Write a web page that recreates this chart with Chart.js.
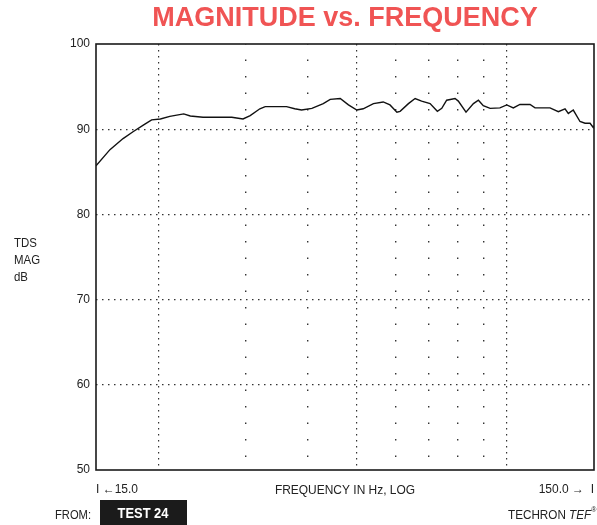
<!DOCTYPE html>
<html>
<head>
<meta charset="utf-8">
<script src="https://cdn.jsdelivr.net/npm/chart.js@4.4.1/dist/chart.umd.min.js"></script>
<style>
  html, body { margin: 0; padding: 0; background: #fff; }
</style>
</head>
<body>
<canvas id="myChart" width="597" height="525"></canvas>
<script>
const freqs = [15.0, 16.0, 17.0, 17.8, 18.7, 19.4, 20.2, 21.1, 22.5, 23.2,
               24.6, 26.2, 28.1, 29.6, 30.6, 32.0, 32.8, 36.2, 37.6, 38.8,
               40.7, 42.9, 44.3, 46.4, 48.2, 50.1, 51.6, 54.1, 56.6, 58.4,
               60.3, 61.2, 63.6, 65.6, 67.6, 70.3, 72.7, 74.2, 75.9, 78.9,
               80.1, 83.0, 85.9, 87.9, 89.9, 92.8, 97.1, 100.2, 103.3, 106.5,
               111.6, 114.2, 122.4, 127.2, 131.2, 133.2, 136.3, 140.6, 143.9, 147.3,
               149.5, 150.0];
const mags  = [85.7, 87.6, 88.9, 89.7, 90.5, 91.1, 91.2, 91.5, 91.8, 91.55,
               91.4, 91.4, 91.4, 91.2, 91.6, 92.4, 92.65, 92.65, 92.4, 92.25,
               92.45, 93.0, 93.5, 93.6, 92.85, 92.25, 92.4, 93.0, 93.2, 92.85,
               92.0, 92.1, 93.0, 93.6, 93.3, 93.0, 92.1, 92.45, 93.4, 93.6,
               93.3, 92.0, 93.0, 93.4, 92.75, 92.45, 92.5, 92.85, 92.5, 92.9,
               92.9, 92.5, 92.5, 92.05, 92.4, 91.85, 92.25, 90.9, 90.7, 90.7,
               90.2, 90.4];

// axes / grid
const yTicks = [50, 60, 70, 80, 90, 100];
const xEnds = [15, 150];
const xEndLabels = ['I \u2190' + '15.0', '150.0 \u2192  I'];
const denseFreqs = [20, 50, 100];
const sparseFreqs = [30, 40, 60, 70, 80, 90];

const FONT = 'Liberation Sans, Arial, sans-serif';
const INK = '#222';

// no automatic label padding, sizes are fixed by hand
const flat = s => { s.paddingLeft = 0; s.paddingRight = 0; s.paddingTop = 0; s.paddingBottom = 0; };

// narrow text, like the condensed type of the sheet
function narrow(ctx, text, x, y, align, sx) {
    ctx.save();
    ctx.translate(x, y);
    ctx.scale(sx, 1);
    ctx.textAlign = align;
    ctx.fillText(text, 0, 0);
    ctx.restore();
}

// extra texts of the sheet (axis label, footer) and the frame
const sheetText = {
    id: 'sheetText',
    afterDraw(chart) {
        const ctx = chart.ctx;
        const a = chart.chartArea;
        ctx.save();
        ctx.strokeStyle = '#1a1a1a';
        ctx.lineWidth = 1.6;
        ctx.strokeRect(a.left, a.top, a.right - a.left, a.bottom - a.top);

        ctx.fillStyle = INK;
        ctx.textBaseline = 'middle';
        ctx.font = '13px ' + FONT;
        ['TDS', 'MAG', 'dB'].forEach((t, i) => narrow(ctx, t, 14, 243 + i * 17, 'left', 0.88));

        narrow(ctx, 'FREQUENCY IN Hz, LOG', (a.left + a.right) / 2, 490, 'center', 0.92);
        narrow(ctx, 'FROM:', 55, 515, 'left', 0.86);

        ctx.fillStyle = '#1b1b1b';
        ctx.fillRect(100, 500, 87, 25);
        ctx.fillStyle = '#fff';
        ctx.font = 'bold 15px ' + FONT;
        narrow(ctx, 'TEST 24', 143, 514, 'center', 0.86);

        ctx.fillStyle = INK;
        ctx.font = '13px ' + FONT;
        const sx = 0.9;
        let w = ctx.measureText('TECHRON ').width * sx;
        narrow(ctx, 'TECHRON ', 508, 515, 'left', sx);
        ctx.font = 'italic 13px ' + FONT;
        narrow(ctx, 'TEF', 508 + w, 515, 'left', sx);
        w += ctx.measureText('TEF').width * sx;
        ctx.font = '7px ' + FONT;
        ctx.fillText('\u00ae', 508 + w, 510);
        ctx.restore();
    }
};

new Chart(document.getElementById('myChart'), {
    type: 'line',
    data: {
        datasets: [{
            data: freqs.map((f, i) => ({ x: f, y: mags[i] })),
            borderColor: '#111',
            borderWidth: 1.4,
            pointRadius: 0,
            tension: 0,
            xAxisID: 'x',
            yAxisID: 'y'
        }]
    },
    options: {
        responsive: false,
        animation: false,
        layout: { padding: { left: 0, right: 3, top: 0, bottom: 27.2 } },
        plugins: {
            legend: { display: false },
            tooltip: { enabled: false },
            title: {
                display: true,
                fullSize: false,
                text: 'MAGNITUDE vs. FREQUENCY',
                color: '#f05454',
                font: { family: FONT, size: 27, weight: 'bold' },
                padding: { top: 2, bottom: 9.6 }
            }
        },
        scales: {
            x: {
                type: 'logarithmic',
                position: 'bottom',
                min: 15, max: 150,
                afterBuildTicks: s => { s.ticks = xEnds.map(v => ({ value: v })); },
                afterFit: s => { flat(s); s.height = 27.8; },
                ticks: {
                    align: 'inner',
                    autoSkip: false,
                    maxRotation: 0,
                    padding: 12.2,
                    color: INK,
                    font: { family: FONT, size: 12 },
                    callback: (v, i) => xEndLabels[i]
                },
                grid: { display: false, drawTicks: false },
                border: { display: false }
            },
            xd: { // dense dotted verticals
                type: 'logarithmic',
                position: 'bottom',
                min: 15, max: 150,
                afterBuildTicks: s => { s.ticks = denseFreqs.map(v => ({ value: v })); },
                afterFit: s => { flat(s); s.height = 0; },
                ticks: { display: false },
                grid: { color: '#333', lineWidth: 1.2, drawTicks: false },
                border: { display: false, dash: [1.5, 4.5] }
            },
            xs: { // sparse dotted verticals
                type: 'logarithmic',
                position: 'bottom',
                min: 15, max: 150,
                afterBuildTicks: s => { s.ticks = sparseFreqs.map(v => ({ value: v })); },
                afterFit: s => { flat(s); s.height = 0; },
                ticks: { display: false },
                grid: { color: '#333', lineWidth: 1.4, drawTicks: false },
                border: { display: false, dash: [1.5, 15], dashOffset: 1 }
            },
            y: {
                type: 'linear',
                min: 50, max: 100,
                afterBuildTicks: s => { s.ticks = yTicks.map(v => ({ value: v })); },
                afterFit: s => { flat(s); s.width = 96; },
                ticks: {
                    padding: 6,
                    color: INK,
                    font: { family: FONT, size: 12 }
                },
                grid: {
                    color: c => (c.tick && (c.tick.value === 50 || c.tick.value === 100)) ? 'rgba(0,0,0,0)' : '#333',
                    lineWidth: 1.2,
                    drawTicks: false
                },
                border: { display: false, dash: [1.5, 4.5] }
            }
        }
    },
    plugins: [sheetText]
});
</script>
</body>
</html>
